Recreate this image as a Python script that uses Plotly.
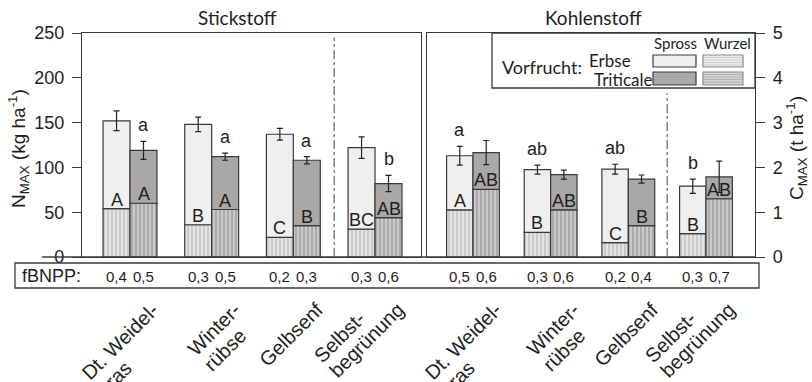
import plotly.graph_objects as go

# ---------------- data ----------------
categories = ["Dt. Weidel-<br>gras", "Winter-<br>rübse", "Gelbsenf", "Selbst-<br>begrünung"]

# Stickstoff: N_MAX (kg ha-1)
n_erbse_total = [152, 148, 137, 122]
n_erbse_err = [11, 8, 6.5, 12]
n_erbse_wurzel = [54, 36, 22, 31]
n_trit_total = [119, 112, 108, 82]
n_trit_err = [10, 4, 4, 9]
n_trit_wurzel = [60, 53, 35, 44]
n_erbse_letters = ["A", "B", "C", "BC"]
n_trit_letters = ["A", "A", "B", "AB"]
n_group_letters = ["a", "a", "a", "b"]
n_fbnpp_erbse = ["0,4", "0,3", "0,2", "0,3"]
n_fbnpp_trit = ["0,5", "0,5", "0,3", "0,6"]

# Kohlenstoff: C_MAX (t ha-1)
c_erbse_total = [2.26, 1.95, 1.96, 1.58]
c_erbse_err = [0.21, 0.10, 0.11, 0.16]
c_erbse_wurzel = [1.05, 0.55, 0.32, 0.52]
c_trit_total = [2.33, 1.84, 1.74, 1.79]
c_trit_err = [0.27, 0.10, 0.09, 0.35]
c_trit_wurzel = [1.51, 1.05, 0.70, 1.30]
c_erbse_letters = ["A", "B", "C", "B"]
c_trit_letters = ["AB", "AB", "B", "AB"]
c_group_letters = ["a", "ab", "ab", "b"]
c_fbnpp_erbse = ["0,5", "0,3", "0,2", "0,3"]
c_fbnpp_trit = ["0,6", "0,6", "0,4", "0,7"]

n_ticks = [0, 50, 100, 150, 200, 250]
c_ticks = [0, 1, 2, 3, 4, 5]

# ---------------- layout geometry ----------------
W, H = 812, 382
ML, MR, MT, MB = 82, 57, 33, 125
PW = W - ML - MR
PH = H - MT - MB


def px(x):
    return (x - ML) / PW


def py(y):
    return (H - MB - y) / PH


ARIAL = "Liberation Sans, Arial, sans-serif"
CALI = "Lato, Carlito, Calibri, sans-serif"
TXT = "#1e1e1e"
LINE = "#3a3a3a"

ERB_SPROSS = "#efefef"
TRI_SPROSS = "#aaa7a7"
ERB_W_BG, ERB_W_FG = "#e4e4e4", "#c4c4c4"
TRI_W_BG, TRI_W_FG = "#c9c9c9", "#a2a2a2"

# approximate Arial advance widths (1/1000 em) for rotated label layout
AW = {' ': 278, '-': 333, '.': 278, 'D': 722, 'G': 778, 'S': 667, 'W': 944,
      'a': 556, 'b': 556, 'd': 556, 'e': 556, 'f': 278, 'g': 556, 'i': 222,
      'l': 222, 'n': 556, 'r': 333, 's': 500, 't': 278, 'u': 556, 'ü': 556}


def text_w(s, f):
    return sum(AW.get(c, 556) for c in s) / 1000.0 * f


panels = [
    dict(xa="x", ya="y", w=0.33,
         et=n_erbse_total, ee=n_erbse_err, ew=n_erbse_wurzel,
         tt=n_trit_total, te=n_trit_err, tw=n_trit_wurzel,
         el=n_erbse_letters, tl=n_trit_letters, gl=n_group_letters, gl_on="T",
         fe=n_fbnpp_erbse, ft=n_fbnpp_trit),
    dict(xa="x2", ya="y2", w=0.34,
         et=c_erbse_total, ee=c_erbse_err, ew=c_erbse_wurzel,
         tt=c_trit_total, te=c_trit_err, tw=c_trit_wurzel,
         el=c_erbse_letters, tl=c_trit_letters, gl=c_group_letters, gl_on="E",
         fe=c_fbnpp_erbse, ft=c_fbnpp_trit),
]

fig = go.Figure()
annotations = []
shapes = []

errstyle = dict(type="data", color="#222222", thickness=1.2, width=3)

LAB_F = 20          # category label font size
LAB_PITCH = 22      # line pitch of rotated labels
U = (0.7071, -0.7071)   # reading direction (rotated -45 deg)
V = (0.7071, 0.7071)    # next-line direction
END_DX, END_Y = 17, 298  # end of longest line relative to group centre

for p in panels:
    w = p["w"]
    for tot, err, wur, off, spc, wbg, wfg in [
        (p["et"], p["ee"], p["ew"], -w, ERB_SPROSS, ERB_W_BG, ERB_W_FG),
        (p["tt"], p["te"], p["tw"], 0.0, TRI_SPROSS, TRI_W_BG, TRI_W_FG),
    ]:
        # Wurzel (root) part
        fig.add_trace(go.Bar(
            x=categories, y=wur, offset=off, width=w,
            xaxis=p["xa"], yaxis=p["ya"], showlegend=False, hoverinfo="skip",
            marker=dict(color=wbg,
                        pattern=dict(shape="|", bgcolor=wbg, fgcolor=wfg,
                                     size=4, solidity=0.4, fillmode="replace"),
                        line=dict(color=LINE, width=1.2)),
        ))
        # Spross (shoot) part stacked on top
        fig.add_trace(go.Bar(
            x=categories, y=[t - r for t, r in zip(tot, wur)], base=wur,
            offset=off, width=w,
            xaxis=p["xa"], yaxis=p["ya"], showlegend=False, hoverinfo="skip",
            marker=dict(color=spc, line=dict(color=LINE, width=1.2)),
            error_y=dict(array=err, **errstyle),
        ))

    for i in range(len(categories)):
        # capital letters inside bars
        for val, lab, xo in [(p["ew"][i], p["el"][i], -w / 2), (p["tw"][i], p["tl"][i], w / 2)]:
            annotations.append(dict(
                x=i + xo, y=val, xref=p["xa"], yref=p["ya"], text=lab,
                showarrow=False, yanchor="bottom", xanchor="center", yshift=-3,
                font=dict(family=ARIAL, size=18, color=TXT)))
        # lower-case letters above groups
        if p["gl_on"] == "T":
            gx, gy = i + w / 2, p["tt"][i] + p["te"][i]
        else:
            gx, gy = i - w / 2, p["et"][i] + p["ee"][i]
        annotations.append(dict(
            x=gx, y=gy, xref=p["xa"], yref=p["ya"], text=p["gl"][i],
            showarrow=False, yanchor="bottom", xanchor="center", yshift=4,
            font=dict(family=ARIAL, size=18, color=TXT)))
        # fBNPP values
        for lab, xo in [(p["fe"][i], -w / 2), (p["ft"][i], w / 2)]:
            annotations.append(dict(
                x=i + xo, y=py(276.5), xref=p["xa"], yref="paper", text=lab,
                showarrow=False, yanchor="middle", xanchor="center",
                font=dict(family=ARIAL, size=15, color=TXT)))
        # rotated category labels: left-aligned lines, each its own annotation
        lines = categories[i].split("<br>")
        widths = [text_w(s, LAB_F) for s in lines]
        m = max(range(len(lines)), key=lambda k: widths[k])
        wmax = widths[m]
        for k, (s, wk) in enumerate(zip(lines, widths)):
            ex = END_DX + (k - m) * LAB_PITCH * V[0] + (wk - wmax) * U[0]
            ey = (k - m) * LAB_PITCH * V[1] + (wk - wmax) * U[1]
            cx = ex - wk / 2 * U[0] + 0.6 * LAB_F * V[0]
            cy = ey - wk / 2 * U[1] + 0.6 * LAB_F * V[1]
            annotations.append(dict(
                x=i, y=py(END_Y), xref=p["xa"], yref="paper", text=s,
                showarrow=False, textangle=-45,
                xanchor="center", yanchor="middle",
                xshift=cx, yshift=-cy,
                font=dict(family=ARIAL, size=LAB_F, color=TXT)))

# panel titles
annotations.append(dict(x=px(237), y=py(17), xref="paper", yref="paper", text="Stickstoff",
                        xanchor="center", yanchor="middle",
                        showarrow=False, font=dict(family=CALI, size=19, color=TXT)))
annotations.append(dict(x=px(593), y=py(17), xref="paper", yref="paper", text="Kohlenstoff",
                        xanchor="center", yanchor="middle",
                        showarrow=False, font=dict(family=CALI, size=19, color=TXT)))
# axis titles
annotations.append(dict(x=px(18), y=py(149), xref="paper", yref="paper",
                        text="N<sub>MAX</sub> (kg ha<sup>-1</sup>)", textangle=-90,
                        xanchor="center", yanchor="middle",
                        showarrow=False, font=dict(family=ARIAL, size=19, color=TXT)))
annotations.append(dict(x=px(796), y=py(148), xref="paper", yref="paper",
                        text="C<sub>MAX</sub> (t ha<sup>-1</sup>)", textangle=-90,
                        xanchor="center", yanchor="middle",
                        showarrow=False, font=dict(family=ARIAL, size=19, color=TXT)))
# fBNPP label
annotations.append(dict(x=px(20), y=py(276), xref="paper", yref="paper", text="fBNPP:",
                        xanchor="left", yanchor="middle", showarrow=False,
                        font=dict(family=ARIAL, size=18, color=TXT)))

# legend texts
leg = [("Vorfrucht:", 500, 67, "left", 18), ("Erbse", 587, 60, "left", 17),
       ("Triticale", 592, 79, "left", 17), ("Spross", 675, 43, "center", 15),
       ("Wurzel", 727, 43, "center", 15)]
for t, x, y, xa, fs in leg:
    annotations.append(dict(x=px(x), y=py(y), xref="paper", yref="paper", text=t,
                            xanchor=xa, yanchor="middle", showarrow=False,
                            font=dict(family=CALI, size=fs, color=TXT)))

# shapes: baseline, separators, fBNPP box, legend
shapes.append(dict(type="line", xref="paper", yref="paper", x0=px(42), x1=px(755),
                   y0=0, y1=0, line=dict(color=LINE, width=1.3)))
shapes.append(dict(type="line", xref="x", yref="y", x0=2.5, x1=2.5, y0=0, y1=245,
                   line=dict(color="#555555", width=1.1, dash="dashdot")))
shapes.append(dict(type="line", xref="x2", yref="y2", x0=2.5, x1=2.5, y0=0, y1=3.65,
                   line=dict(color="#555555", width=1.1, dash="dashdot")))
shapes.append(dict(type="rect", xref="paper", yref="paper", x0=px(15), x1=px(759),
                   y0=py(288), y1=py(263), line=dict(color=LINE, width=1.3)))
shapes.append(dict(type="rect", xref="paper", yref="paper", x0=px(492), x1=px(755),
                   y0=py(88), y1=py(33), fillcolor="white", line=dict(color=LINE, width=1.3)))
swatches = [(653, 696, 55, 67, ERB_SPROSS, LINE, None),
            (653, 696, 72, 85, TRI_SPROSS, LINE, None),
            (703, 743, 55, 67, "#ececec", "#8a8a8a", "#c8c8c8"),
            (703, 743, 72, 85, "#d4d4d4", "#8a8a8a", "#a8a8a8")]
for x0, x1, y0, y1, fc, lc, stripe in swatches:
    shapes.append(dict(type="rect", xref="paper", yref="paper", x0=px(x0), x1=px(x1),
                       y0=py(y1), y1=py(y0), fillcolor=fc, line=dict(color=lc, width=1.2)))
    if stripe:
        yy = y0 + 2.5
        path = ""
        while yy < y1 - 1:
            path += f"M{px(x0 + 1)},{py(yy)} L{px(x1 - 1)},{py(yy)} "
            yy += 2.5
        shapes.append(dict(type="path", xref="paper", yref="paper", path=path,
                           line=dict(color=stripe, width=0.8)))

axis_common = dict(showline=True, linecolor=LINE, linewidth=1.3, mirror=True,
                   showgrid=False, zeroline=False)

fig.update_layout(
    width=W, height=H,
    margin=dict(l=ML, r=MR, t=MT, b=MB, pad=0),
    paper_bgcolor="white", plot_bgcolor="white",
    barmode="overlay",
    showlegend=False,
    xaxis=dict(domain=[0, px(421)], range=[-0.588, 3.563], type="category",
               showticklabels=False, ticks="", anchor="y", **axis_common),
    xaxis2=dict(domain=[px(427), 1], range=[-0.592, 3.631], type="category",
                showticklabels=False, ticks="", anchor="y2", **axis_common),
    yaxis=dict(range=[0, 250], tickvals=n_ticks, ticks="outside", ticklen=9,
               tickcolor=LINE, tickwidth=1.3, anchor="x", ticklabelstandoff=4,
               tickfont=dict(family=ARIAL, size=18, color=TXT), **axis_common),
    yaxis2=dict(range=[0, 5], tickvals=c_ticks, ticks="outside", ticklen=9,
                tickcolor=LINE, tickwidth=1.3, anchor="x2", side="right",
                ticklabelstandoff=4,
                tickfont=dict(family=ARIAL, size=18, color=TXT), **axis_common),
    annotations=annotations,
    shapes=shapes,
)

fig.write_html("out.html", config={"displayModeBar": False},
               post_script="document.body.style.margin='0';document.body.style.overflow='hidden';")
